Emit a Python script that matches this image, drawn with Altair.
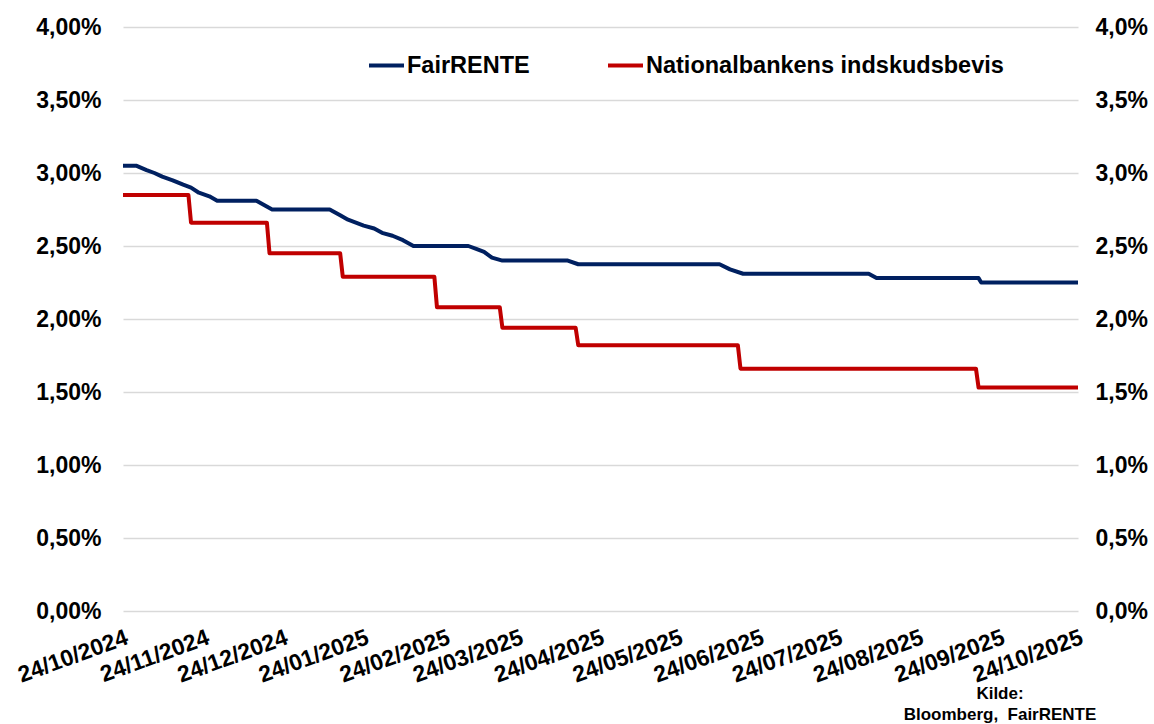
import altair as alt
import pandas as pd

# FairRENTE rate (%), breakpoints of the curve
fair_dates = [
    "2024-10-24", "2024-10-29", "2024-11-02", "2024-11-05", "2024-11-08",
    "2024-11-12", "2024-11-16", "2024-11-19", "2024-11-22", "2024-11-26",
    "2024-11-29", "2024-12-14", "2024-12-20", "2025-01-11", "2025-01-15",
    "2025-01-18", "2025-01-24", "2025-01-28", "2025-01-31", "2025-02-04",
    "2025-02-08", "2025-02-12", "2025-03-05", "2025-03-08", "2025-03-11",
    "2025-03-14", "2025-03-18", "2025-04-12", "2025-04-16", "2025-06-09",
    "2025-06-13", "2025-06-18", "2025-08-05", "2025-08-08", "2025-09-16",
    "2025-09-17", "2025-10-24",
]
fair_values = [
    3.05, 3.05, 3.02, 3.00, 2.975,
    2.95, 2.92, 2.90, 2.865, 2.84,
    2.81, 2.81, 2.75, 2.75, 2.71,
    2.68, 2.64, 2.62, 2.59, 2.57,
    2.54, 2.50, 2.50, 2.48, 2.46,
    2.42, 2.40, 2.40, 2.375, 2.375,
    2.34, 2.31, 2.31, 2.28, 2.28,
    2.25, 2.25,
]

# Nationalbankens indskudsbevis rate (%), one point before and after each change
nb_dates = [
    "2024-10-24", "2024-11-18", "2024-11-19", "2024-12-18", "2024-12-19",
    "2025-01-15", "2025-01-16", "2025-02-20", "2025-02-21", "2025-03-17",
    "2025-03-18", "2025-04-15", "2025-04-16", "2025-06-16", "2025-06-17",
    "2025-09-15", "2025-09-16", "2025-10-24",
]
nb_values = [
    2.85, 2.85, 2.66, 2.66, 2.45,
    2.45, 2.29, 2.29, 2.08, 2.08,
    1.94, 1.94, 1.82, 1.82, 1.66,
    1.66, 1.53, 1.53,
]

series_names = ["FairRENTE", "Nationalbankens indskudsbevis"]
series_colors = ["#002060", "#C00000"]

# Axis ticks: the 24th of every month
tick_months = [(2024, m) for m in (10, 11, 12)] + [(2025, m) for m in range(1, 11)]
y_ticks = [0, 0.5, 1.0, 1.5, 2.0, 2.5, 3.0, 3.5, 4.0]

df = pd.concat([
    pd.DataFrame({"dato": fair_dates, "rente": fair_values, "serie": series_names[0]}),
    pd.DataFrame({"dato": nb_dates, "rente": nb_values, "serie": series_names[1]}),
])

FONT = "Liberation Sans"
x_values = [alt.DateTime(year=y, month=m, date=24, utc=True) for y, m in tick_months]

x_enc = alt.X(
    "dato:T",
    scale=alt.Scale(
        type="utc",
        domain=[alt.DateTime(year=2024, month=10, date=24, utc=True),
                alt.DateTime(year=2025, month=10, date=24, utc=True)],
        nice=False,
    ),
    axis=alt.Axis(
        values=x_values, labelExpr="utcFormat(datum.value, '%d/%m/%Y')",
        labelAngle=-20, labelAlign="right", labelBaseline="top",
        labelPadding=15, ticks=False, domain=False, grid=False,
        labelFont=FONT, labelFontSize=23, labelFontWeight="bold",
        labelColor="#000000", labelOverlap=False, labelBound=False,
        title=None,
    ),
)

y_scale = alt.Scale(domain=[0, 4], nice=False)

lines = alt.Chart(df).mark_line(strokeWidth=4, strokeJoin="round").encode(
    x=x_enc,
    y=alt.Y(
        "rente:Q", scale=y_scale,
        axis=alt.Axis(
            values=y_ticks, orient="left", title=None,
            labelExpr="replace(format(datum.value, '.2f'), '.', ',') + '%'",
            ticks=False, domain=False, grid=True, gridColor="#d9d9d9",
            gridWidth=1.5, labelPadding=22, labelFont=FONT, labelFontSize=23,
            labelFontWeight="bold", labelColor="#000000",
        ),
    ),
    color=alt.Color(
        "serie:N",
        scale=alt.Scale(domain=series_names, range=series_colors),
        legend=alt.Legend(
            title=None, orient="none", direction="horizontal",
            legendX=244, legendY=19, symbolType="stroke",
            symbolStrokeWidth=4, symbolSize=1225, columnPadding=70,
            labelOffset=1, labelLimit=0, labelFont=FONT, labelFontSize=23.5,
            labelFontWeight="bold", labelColor="#000000",
        ),
    ),
    detail="serie:N",
)

# Same data, invisible, carrying the right-hand axis
right_axis = alt.Chart(df).mark_line(opacity=0).encode(
    x=x_enc,
    y=alt.Y(
        "rente:Q", scale=y_scale,
        axis=alt.Axis(
            values=y_ticks, orient="right", title=None,
            labelExpr="replace(format(datum.value, '.1f'), '.', ',') + '%'",
            ticks=False, domain=False, grid=False, labelPadding=17,
            labelFont=FONT, labelFontSize=23, labelFontWeight="bold",
            labelColor="#000000",
        ),
    ),
    detail="serie:N",
)

source = alt.Chart(alt.Data(values=[{}])).mark_text(
    text="Kilde:\nBloomberg,\u00a0 FairRENTE", lineBreak="\n", align="center",
    baseline="top", font=FONT, fontSize=17, fontWeight="bold",
    color="#000000", lineHeight=21,
).encode(x=alt.value(877), y=alt.value(659))

chart = alt.layer(lines, right_axis, source).resolve_scale(
    y="independent"
).resolve_axis(y="independent").properties(
    width=955, height=584,
    autosize=alt.AutoSizeParams(type="none"),
    padding={"left": 123, "top": 27, "right": 76, "bottom": 113},
    background="#ffffff",
).configure_view(stroke=None)

chart.save("out.html", embed_options={"renderer": "svg", "actions": False})
